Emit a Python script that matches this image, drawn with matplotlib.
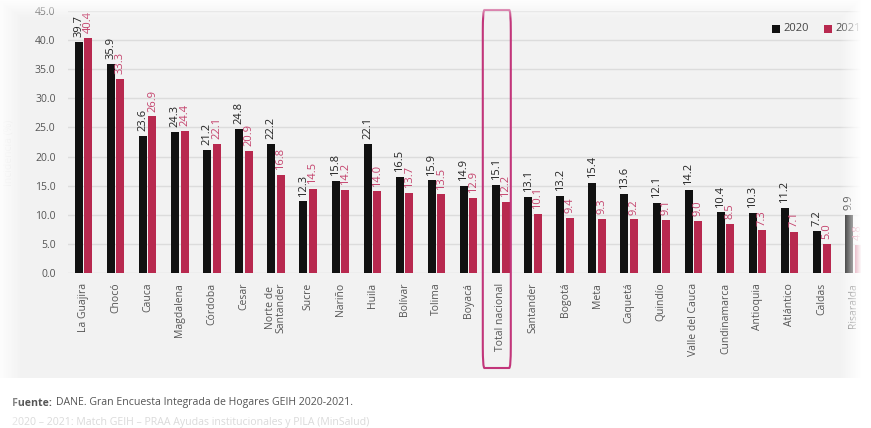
import numpy as np
import matplotlib
matplotlib.use("Agg")
import matplotlib.pyplot as plt
import matplotlib.transforms as mtransforms
from matplotlib.patches import Rectangle, FancyBboxPatch

plt.rcParams['font.family'] = ['Open Sans', 'DejaVu Sans']

# data
departments = ['La Guajira', 'Chocó', 'Cauca', 'Magdalena', 'Córdoba', 'Cesar',
               'Norte de\nSantander', 'Sucre', 'Nariño', 'Huila', 'Bolívar', 'Tolima',
               'Boyacá', 'Total nacional', 'Santander', 'Bogotá', 'Meta', 'Caquetá',
               'Quindío', 'Valle del Cauca', 'Cundinamarca', 'Antioquia', 'Atlántico',
               'Caldas', 'Risaralda']
vals_2020 = [39.7, 35.9, 23.6, 24.3, 21.2, 24.8, 22.2, 12.3, 15.8, 22.1, 16.5, 15.9,
             14.9, 15.1, 13.1, 13.2, 15.4, 13.6, 12.1, 14.2, 10.4, 10.3, 11.2, 7.2, 9.9]
vals_2021 = [40.4, 33.3, 26.9, 24.4, 22.1, 20.9, 16.8, 14.5, 14.2, 14.0, 13.7, 13.5,
             12.9, 12.2, 10.1, 9.4, 9.3, 9.2, 9.1, 9.0, 8.5, 7.3, 7.1, 5.0, 4.8]
yticks = [0, 5, 10, 15, 20, 25, 30, 35, 40, 45]

black = '#111111'
red = '#b8294f'
red_txt = '#c4426c'

W, H = 871, 428
fig = plt.figure(figsize=(W / 100, H / 100), dpi=100, facecolor='white')

# gray panel behind the chart
fig.patches.append(Rectangle((0, 1 - 378 / H), 1, 378 / H, transform=fig.transFigure,
                             facecolor='#f2f2f2', edgecolor='none', zorder=-5))

# axes placed in pixels
x0, x1 = 68, 871
y_top, y_bot = 11, 273
ax = fig.add_axes([x0 / W, 1 - y_bot / H, (x1 - x0) / W, (y_bot - y_top) / H])
ax.set_facecolor('none')

step = 32.1
x = np.arange(len(departments))
w = 0.25
off = 0.148
ax.bar(x - off, vals_2020, w, color=black, zorder=3)
ax.bar(x + off, vals_2021, w, color=red, zorder=3)

for i in range(len(departments)):
    ax.annotate(f'{vals_2020[i]:.1f}', (x[i] - off, vals_2020[i]), xytext=(0, 3.5),
                textcoords='offset points', rotation=90, ha='center', va='bottom',
                fontsize=8, color='#222222', zorder=4)
    ax.annotate(f'{vals_2021[i]:.1f}', (x[i] + off, vals_2021[i]), xytext=(0, 3.5),
                textcoords='offset points', rotation=90, ha='center', va='bottom',
                fontsize=8, color=red_txt, zorder=4)

ax.set_xlim(-(83.5 - x0) / step, -(83.5 - x0) / step + (x1 - x0) / step)
ax.set_ylim(0, 45)
ax.set_yticks(yticks)
ax.set_yticklabels([f'{v:.1f}' for v in yticks], fontsize=7.5, color='#555555')
ax.set_xticks(x)
ax.set_xticklabels(departments, rotation=90, fontsize=7.5, color='#555555',
                   va='top', linespacing=0.95)
ax.tick_params(axis='both', length=0)
ax.tick_params(axis='y', pad=9)
ax.tick_params(axis='x', pad=7)
ax.grid(axis='y', color='#dcdcdc', linewidth=1, zorder=0)
for s in ax.spines.values():
    s.set_visible(False)

# faint y label
fig.text(9 / W, 1 - 153 / H, 'Incidencia (%)', rotation=90, ha='center', va='center',
         fontsize=7.5, color='#e6e6e6')

# highlight box around total nacional
trans = mtransforms.blended_transform_factory(ax.transData, fig.transFigure)
bx = 13 + (482 - 500) / step
box = FancyBboxPatch((bx, 1 - 368 / H), 28 / step, 358 / H,
                     boxstyle='round,pad=0,rounding_size=0.05', transform=trans,
                     facecolor='none', edgecolor='#c2357a', linewidth=1.5,
                     clip_on=False, zorder=5)
fig.patches.append(box)

# legend
fig.patches.append(Rectangle((772 / W, 1 - 32.5 / H), 8 / W, 8 / H, transform=fig.transFigure,
                             facecolor=black, edgecolor='none'))
fig.text(783 / W, 1 - 28.5 / H, '2020', fontsize=8, color='#444444', va='center')
fig.patches.append(Rectangle((824 / W, 1 - 32.5 / H), 8 / W, 8 / H, transform=fig.transFigure,
                             facecolor=red, edgecolor='none'))
fig.text(835 / W, 1 - 28.5 / H, '2021', fontsize=8, color='#444444', va='center')

# source note
fig.text(12 / W, 1 - 403 / H, 'Fuente:', fontsize=7.6, fontweight='bold', color='#555555',
         va='center')
fig.text(56 / W, 1 - 403 / H, 'DANE. Gran Encuesta Integrada de Hogares GEIH 2020-2021.',
         fontsize=7.6, color='#555555', va='center')
fig.text(12 / W, 1 - 422 / H,
         '2020 – 2021: Match GEIH – PRAA Ayudas institucionales y PILA (MinSalud)',
         fontsize=7.6, color='#dadada', va='center')

# faded edges of the screenshot
alpha = np.zeros((H, W))
cols = np.arange(W)
right = np.clip((cols - 838) / 22, 0, 1)
left = np.clip((22 - cols) / 22, 0, 1) * 0.85
alpha = np.maximum(alpha, right[None, :])
alpha = np.maximum(alpha, left[None, :])
rows = np.arange(H)
top = np.clip((18 - rows) / 18, 0, 1) * 0.9
alpha = np.maximum(alpha, top[:, None])
rgba = np.ones((H, W, 4))
rgba[..., 3] = alpha
ov = fig.add_axes([0, 0, 1, 1], zorder=20)
ov.imshow(rgba, aspect='auto', interpolation='bilinear')
ov.axis('off')

fig.savefig('out.png', dpi=100, facecolor='white')
